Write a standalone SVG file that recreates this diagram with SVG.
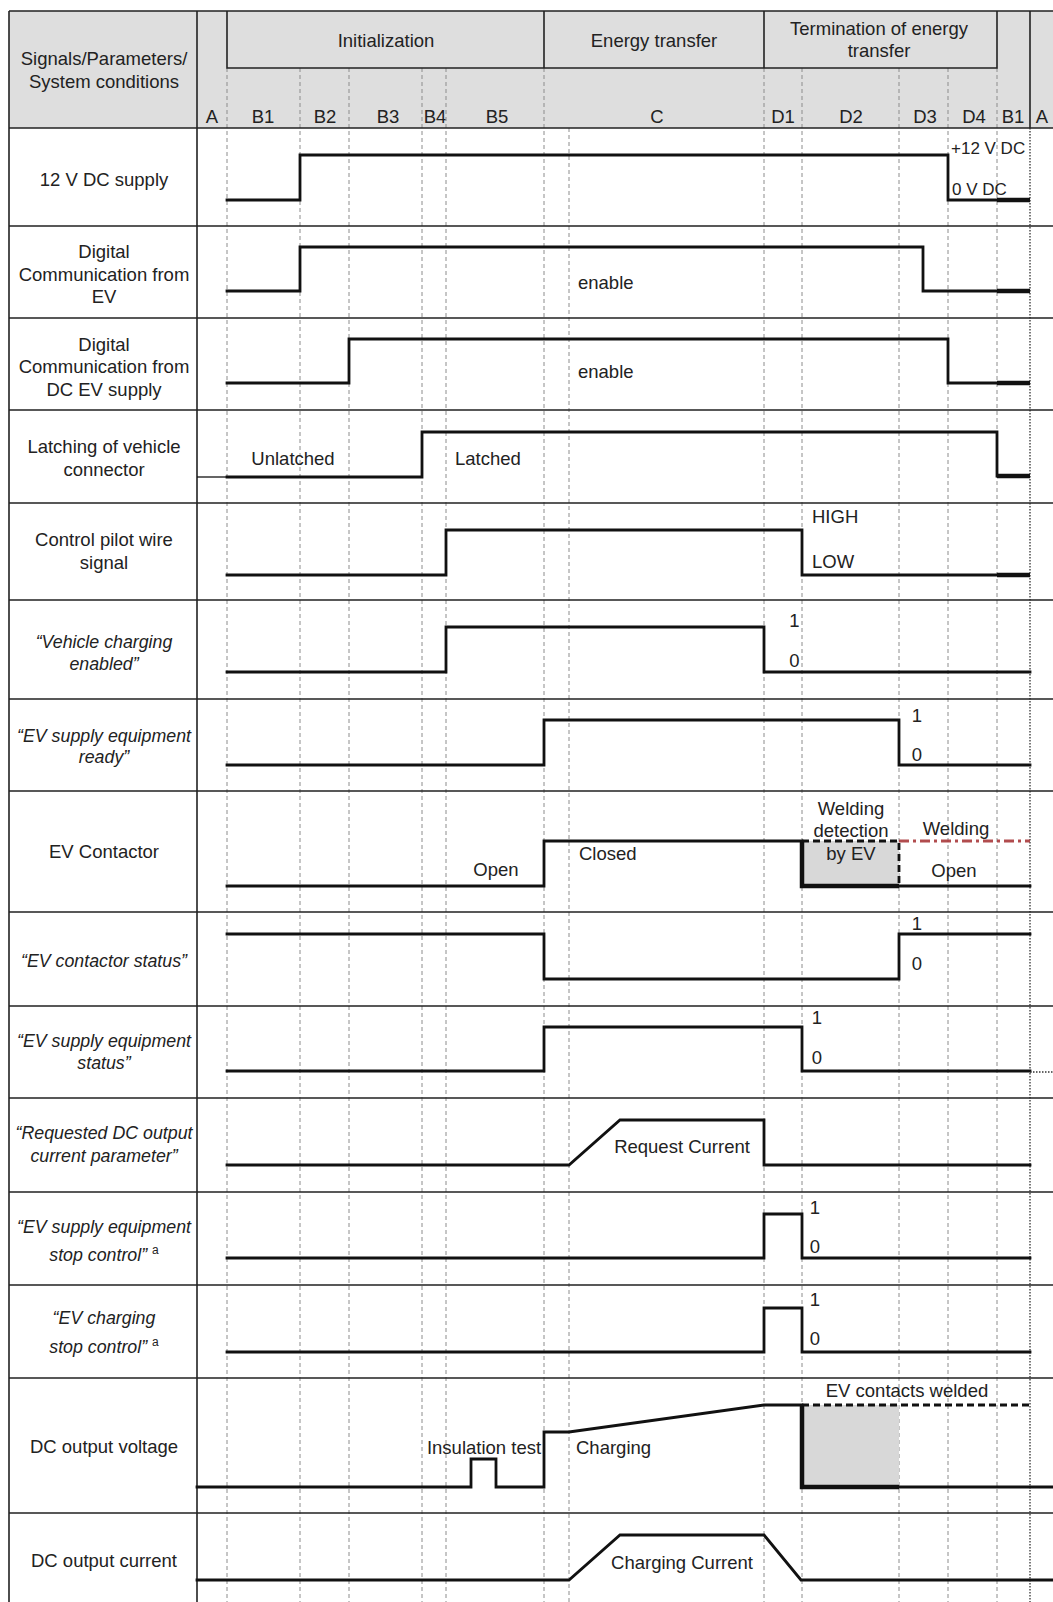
<svg xmlns="http://www.w3.org/2000/svg" width="1053" height="1602" viewBox="0 0 1053 1602">
<style>
text{font-family:"Liberation Sans",Arial,sans-serif;font-size:18.5px;fill:#222}
.c{text-anchor:middle}
.it{font-style:italic;font-size:17.8px}
.sm{font-size:17px}
.grid{stroke:#8c8c8c;stroke-width:1;stroke-dasharray:4 3;fill:none}
.dot{stroke:#333;stroke-width:1.3;stroke-dasharray:1.5 1.5;fill:none}
.frame{stroke:#222;stroke-width:1.6;fill:none}
.sig{stroke:#111;stroke-width:2.8;fill:none;stroke-linejoin:miter;stroke-linecap:square}
.thick{stroke:#111;stroke-width:4.5;fill:none}
.dash{stroke:#111;stroke-width:2.8;fill:none;stroke-dasharray:7 4}
.shade{fill:#d8d8d8;stroke:none}
</style>

<g id="header">
  <rect x="9" y="11" width="1044" height="117" fill="#dedede"/>
  <text class="c" x="104" y="65">Signals/Parameters/</text>
  <text class="c" x="104" y="88">System conditions</text>
  <text class="c" x="386" y="47">Initialization</text>
  <text class="c" x="654" y="47">Energy transfer</text>
  <text class="c" x="879" y="35">Termination of energy</text>
  <text class="c" x="879" y="57">transfer</text>
  <g id="phases">
    <text class="c" x="212" y="123">A</text>
    <text class="c" x="263" y="123">B1</text>
    <text class="c" x="325" y="123">B2</text>
    <text class="c" x="388" y="123">B3</text>
    <text class="c" x="435" y="123">B4</text>
    <text class="c" x="497" y="123">B5</text>
    <text class="c" x="657" y="123">C</text>
    <text class="c" x="783" y="123">D1</text>
    <text class="c" x="851" y="123">D2</text>
    <text class="c" x="925" y="123">D3</text>
    <text class="c" x="974" y="123">D4</text>
    <text class="c" x="1013" y="123">B1</text>
    <text class="c" x="1042" y="123">A</text>
  </g>
</g>

<g id="grid">
  <path class="grid" d="M227,68V1602 M300,68V1602 M349,68V1602 M422,68V1602 M446,68V1602 M544,68V1602 M569,128V1602 M764,68V1602 M802,68V1602 M899,68V1602 M948,68V1602 M997,68V1602"/>
  <path class="dot" d="M1030,128V1602"/>
</g>

<g id="frame">
  <path class="frame" d="M9,11H1053 M9,128H1053 M9,11V1602 M197,11V1602 M227,11V68H997V11 M544,11V68 M764,11V68 M1030,11V128"/>
  <path class="frame" d="M9,226H1053 M9,318H1053 M9,410H1053 M9,503H1053 M9,600H1053 M9,699H1053 M9,791H1053 M9,912H1053 M9,1006H1053 M9,1098H1053 M9,1192H1053 M9,1285H1053 M9,1378H1053 M9,1513H1053"/>
</g>

<g id="row-12v">
  <text class="c" x="104" y="185.5">12 V DC supply</text>
  <path class="sig" d="M227,200H300V155H948V200H997"/>
  <path class="thick" d="M997,200H1030"/>
  <text class="sm" x="951" y="153.5">+12 V DC</text>
  <text class="sm" x="952" y="195">0 V DC</text>
</g>

<g id="row-comm-ev">
  <text class="c" x="104" y="258">Digital</text>
  <text class="c" x="104" y="281">Communication from</text>
  <text class="c" x="104" y="303">EV</text>
  <path class="sig" d="M227,291H300V247H923V291H997"/>
  <path class="thick" d="M997,291H1030"/>
  <text x="578" y="289">enable</text>
</g>

<g id="row-comm-evse">
  <text class="c" x="104" y="350.5">Digital</text>
  <text class="c" x="104" y="373">Communication from</text>
  <text class="c" x="104" y="396">DC EV supply</text>
  <path class="sig" d="M227,383H349V339H948V383H997"/>
  <path class="thick" d="M997,383H1030"/>
  <text x="578" y="378">enable</text>
</g>

<g id="row-latch">
  <text class="c" x="104" y="453">Latching of vehicle</text>
  <text class="c" x="104" y="475.5">connector</text>
  <path d="M197,477H227" stroke="#111" stroke-width="1.3"/>
  <path class="sig" d="M227,477H422V432H997V476"/>
  <path class="thick" d="M997,476H1030"/>
  <text class="c" x="293" y="464.5">Unlatched</text>
  <text x="455" y="464.5">Latched</text>
</g>

<g id="row-cp">
  <text class="c" x="104" y="546">Control pilot wire</text>
  <text class="c" x="104" y="568.5">signal</text>
  <path class="sig" d="M227,575H446V530H802V575H997"/>
  <path class="thick" d="M997,575H1030"/>
  <text x="812" y="523">HIGH</text>
  <text x="812" y="568">LOW</text>
</g>

<g id="row-vce">
  <text class="c it" x="104" y="648">“Vehicle charging</text>
  <text class="c it" x="104" y="670">enabled”</text>
  <path class="sig" d="M227,672H446V627H764V672H1030"/>
  <text class="c" x="794.5" y="627">1</text>
  <text class="c" x="794.5" y="666.5">0</text>
</g>

<g id="row-evse-ready">
  <text class="c it" x="104" y="741.5">“EV supply equipment</text>
  <text class="c it" x="104" y="763">ready”</text>
  <path class="sig" d="M227,765H544V720H899V765H1030"/>
  <text class="c" x="917" y="721.5">1</text>
  <text class="c" x="917" y="760.5">0</text>
</g>

<g id="row-contactor">
  <text class="c" x="104" y="858">EV Contactor</text>
  <rect class="shade" x="802" y="841" width="97" height="45"/>
  <path class="sig" d="M227,886H544V841H802"/>
  <path class="thick" d="M802,841V886H899"/>
  <path class="sig" d="M899,886H1030"/>
  <path class="dash" d="M802,841H899V886"/>
  <path d="M899,841H1030" stroke="#a8393b" stroke-width="3.2" stroke-dasharray="10 4 3 4" fill="none" opacity="0.9"/>
  <text class="c" x="496" y="875.5">Open</text>
  <text x="579" y="859.5">Closed</text>
  <text class="c" x="851" y="815">Welding</text>
  <text class="c" x="851" y="837">detection</text>
  <text class="c" x="851" y="860">by EV</text>
  <text class="c" x="956" y="834.5">Welding</text>
  <text class="c" x="954" y="876.5">Open</text>
</g>

<g id="row-contactor-status">
  <text class="c it" x="104" y="966.5">“EV contactor status”</text>
  <path class="sig" d="M227,934H544V979H899V934H1030"/>
  <text class="c" x="917" y="929.5">1</text>
  <text class="c" x="917" y="969.5">0</text>
</g>

<g id="row-evse-status">
  <text class="c it" x="104" y="1047">“EV supply equipment</text>
  <text class="c it" x="104" y="1069">status”</text>
  <path class="sig" d="M227,1071H544V1027H802V1071H1030"/>
  <path class="dot" d="M1030,1072H1053"/>
  <text class="c" x="817" y="1023.5">1</text>
  <text class="c" x="817" y="1063.5">0</text>
</g>

<g id="row-requested-current">
  <text class="c it" x="104" y="1139">“Requested DC output</text>
  <text class="c it" x="104" y="1162">current parameter”</text>
  <path class="sig" d="M227,1165H569L620,1120H764V1165H1030"/>
  <text class="c" x="682" y="1152.5">Request Current</text>
</g>

<g id="row-evse-stop">
  <text class="c it" x="104" y="1232.5">“EV supply equipment</text>
  <text class="c it" x="104" y="1261">stop control” <tspan font-size="12" dy="-7" font-style="normal">a</tspan></text>
  <path class="sig" d="M227,1258H764V1214H802V1258H1030"/>
  <text class="c" x="815" y="1213.5">1</text>
  <text class="c" x="815" y="1253">0</text>
</g>

<g id="row-ev-stop">
  <text class="c it" x="104" y="1323.5">“EV charging</text>
  <text class="c it" x="104" y="1352.5">stop control” <tspan font-size="12" dy="-7" font-style="normal">a</tspan></text>
  <path class="sig" d="M227,1352H764V1308H802V1352H1030"/>
  <text class="c" x="815" y="1305.5">1</text>
  <text class="c" x="815" y="1344.5">0</text>
</g>

<g id="row-voltage">
  <text class="c" x="104" y="1452.5">DC output voltage</text>
  <rect class="shade" x="802" y="1405" width="97" height="82"/>
  <path class="sig" d="M197,1487H471V1459H496V1487H544V1432H569L764,1405H802"/>
  <path class="thick" d="M802,1405V1487H899"/>
  <path class="sig" d="M899,1487H1053" stroke-width="2.4"/>
  <path class="dash" d="M802,1405H1030"/>
  <text class="c" x="484" y="1454">Insulation test</text>
  <text x="576" y="1454">Charging</text>
  <text class="c" x="907" y="1397">EV contacts welded</text>
</g>

<g id="row-current">
  <text class="c" x="104" y="1566.5">DC output current</text>
  <path class="sig" d="M197,1580H569L620,1535H764L801,1580H1053"/>
  <text class="c" x="682" y="1569">Charging Current</text>
</g>
</svg>
